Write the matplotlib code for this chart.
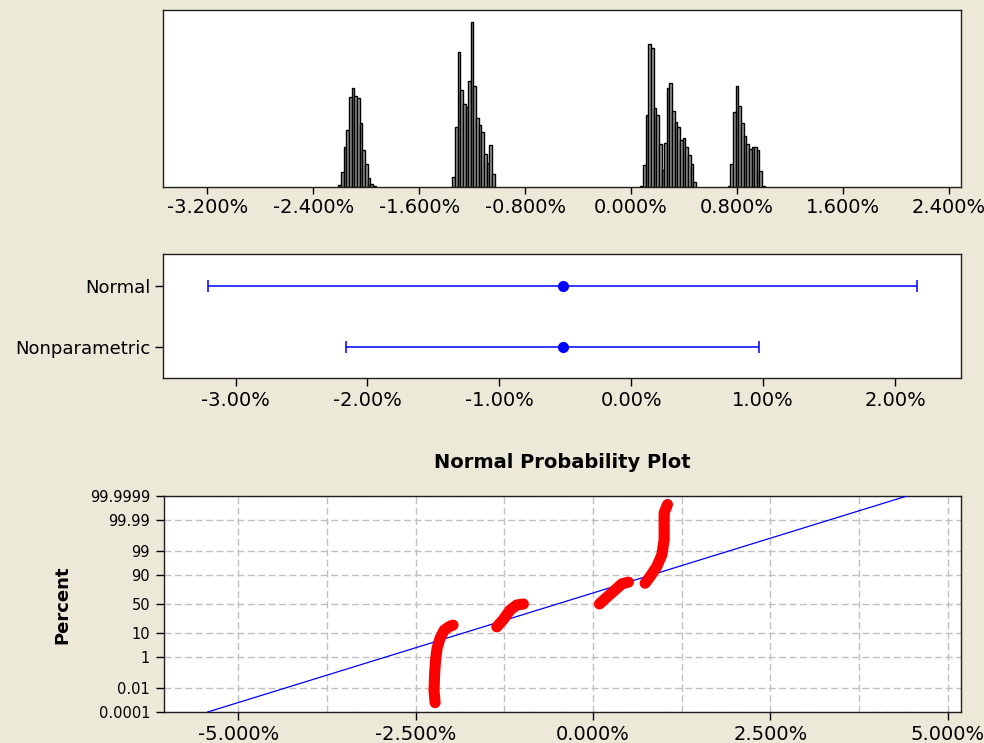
import matplotlib
matplotlib.use('Agg')
import matplotlib.pyplot as plt
import numpy as np
from statistics import NormalDist
from matplotlib.ticker import FixedLocator, FuncFormatter

# histogram of the values (4 clusters, bins of 0.02%)
bin_width = 0.02
cluster_starts = [-2.21, -1.35, 0.07, 0.73]
cluster1_counts = [2, 15, 40, 57, 90, 99, 91, 89, 64, 37, 23, 9, 3, 1]
cluster2_counts = [10, 60, 135, 97, 83, 80, 106, 165, 101, 69, 62, 55, 33, 24, 42, 13]
cluster3_counts = [1, 22, 72, 143, 139, 79, 72, 43, 17, 44, 99, 104, 76, 65, 60, 47, 49, 40, 32, 23, 5]
cluster4_counts = [1, 23, 75, 101, 81, 64, 51, 43, 38, 40, 40, 37, 16, 1]
hist_ticks = [-3.2, -2.4, -1.6, -0.8, 0.0, 0.8, 1.6, 2.4]

# confidence intervals
ci_labels = ['Normal', 'Nonparametric']
ci_mean = [-0.52, -0.52]
ci_low = [-3.21, -2.16]
ci_high = [2.17, 0.97]
ci_ticks = [-3.0, -2.0, -1.0, 0.0, 1.0, 2.0]

# normal probability plot
fit_mean = -0.505
fit_sd = 1.037
prob_ticks = [0.0001, 0.01, 1, 10, 50, 90, 99, 99.99, 99.9999]
prob_xticks = [-5.0, -2.5, 0.0, 2.5, 5.0]
prob_xminor = [-3.75, -1.25, 1.25, 3.75]
curve1_x = [-2.228, -2.243, -2.236, -2.222, -2.200, -2.158, -2.100, -2.017, -1.975]
curve1_p = [0.0007, 0.007, 0.084, 0.66, 2.6, 6.6, 12.5, 16.5, 17.6]
curve2_x = [-1.358, -1.265, -1.171, -1.077, -0.983]
curve2_p = [15.7, 24.9, 39.5, 48.2, 50.0]
curve3_x = [0.089, 0.193, 0.310, 0.405, 0.498]
curve3_p = [50.0, 61.7, 73.2, 81.2, 83.2]
curve4_x = [0.733, 0.804, 0.898, 0.969, 1.001, 1.001, 1.001, 1.048]
curve4_p = [82.0, 88.7, 95.1, 98.5, 99.77, 99.969, 99.997, 99.9994]

nd = NormalDist()
def z(p):
    return [nd.inv_cdf(v / 100.0) for v in p]

bg = '#ece9d8'
fig = plt.figure(figsize=(9.84, 7.43), dpi=100, facecolor=bg)
ax1 = fig.add_axes([163/984, 1-187/743, 798/984, 177/743])
ax2 = fig.add_axes([163/984, 1-378/743, 798/984, 124/743])
ax3 = fig.add_axes([164/984, 1-712/743, 797/984, 216/743])

# --- histogram
for start, counts in zip(cluster_starts, [cluster1_counts, cluster2_counts, cluster3_counts, cluster4_counts]):
    lefts = start + bin_width * np.arange(len(counts))
    ax1.bar(lefts, counts, width=bin_width, align='edge', color='#9a9a9a',
            edgecolor='black', linewidth=1.0)
ax1.set_xlim(-3.535, 2.492)
ax1.set_ylim(0, 177)
ax1.set_yticks([])
ax1.xaxis.set_major_locator(FixedLocator(hist_ticks))
ax1.xaxis.set_major_formatter(FuncFormatter(lambda v, p: '%.3f%%' % v))
ax1.tick_params(axis='x', direction='out', length=5, width=1, labelsize=14, pad=3)

# --- confidence intervals
ci_y = [1, 0]
xerr = [[m - lo for m, lo in zip(ci_mean, ci_low)], [hi - m for m, hi in zip(ci_mean, ci_high)]]
ax2.errorbar(ci_mean, ci_y, xerr=xerr, fmt='o', color='blue', ms=7,
             capsize=4.3, elinewidth=1.1, capthick=1.1)
ax2.set_xlim(-3.55, 2.50)
ax2.set_ylim(-0.51, 1.525)
ax2.set_yticks(ci_y)
ax2.set_yticklabels(ci_labels)
ax2.xaxis.set_major_locator(FixedLocator(ci_ticks))
ax2.xaxis.set_major_formatter(FuncFormatter(lambda v, p: '%.2f%%' % v))
ax2.tick_params(axis='x', direction='out', length=6, width=1, labelsize=14, pad=3)
ax2.tick_params(axis='y', direction='out', length=6, width=1, labelsize=13, pad=3)

# --- normal probability plot
zlim = nd.inv_cdf(0.999999)
line_z = np.array([-zlim, zlim])
ax3.plot(fit_mean + fit_sd * line_z, line_z, color='blue', lw=0.9, zorder=3)
for cx, cp in [(curve1_x, curve1_p), (curve2_x, curve2_p), (curve3_x, curve3_p), (curve4_x, curve4_p)]:
    ax3.plot(cx, z(cp), color='red', lw=8, solid_capstyle='round',
             solid_joinstyle='round', zorder=4)
ax3.set_xlim(-6.05, 5.186)
ax3.set_ylim(-zlim, zlim)
ax3.yaxis.set_major_locator(FixedLocator(z(prob_ticks)))
ax3.set_yticklabels(['%g' % v for v in prob_ticks])
ax3.xaxis.set_major_locator(FixedLocator(prob_xticks))
ax3.xaxis.set_minor_locator(FixedLocator(prob_xminor))
ax3.xaxis.set_major_formatter(FuncFormatter(lambda v, p: '%.3f%%' % v))
ax3.tick_params(axis='x', which='major', direction='out', length=6, width=1, labelsize=14, pad=3)
ax3.tick_params(axis='x', which='minor', length=0)
ax3.tick_params(axis='y', direction='out', length=6, width=1, labelsize=10.5, pad=4)
ax3.grid(True, which='both', axis='x', color='#c0c0c0', lw=1, ls=(0, (5, 2.5)), zorder=0)
ax3.grid(True, which='major', axis='y', color='#c0c0c0', lw=1, ls=(0, (5, 2.5)), zorder=0)
ax3.set_axisbelow(True)
ax3.set_title('Normal Probability Plot', fontsize=14, fontweight='bold', pad=20)
fig.text(62/984, 1-605/743, 'Percent', rotation=90, ha='center', va='center',
         fontsize=13, fontweight='bold')

for ax in (ax1, ax2, ax3):
    ax.set_facecolor('white')
    for s in ax.spines.values():
        s.set_linewidth(1.0)
        s.set_color('#202020')

fig.savefig('out.png', dpi=100, facecolor=bg)
